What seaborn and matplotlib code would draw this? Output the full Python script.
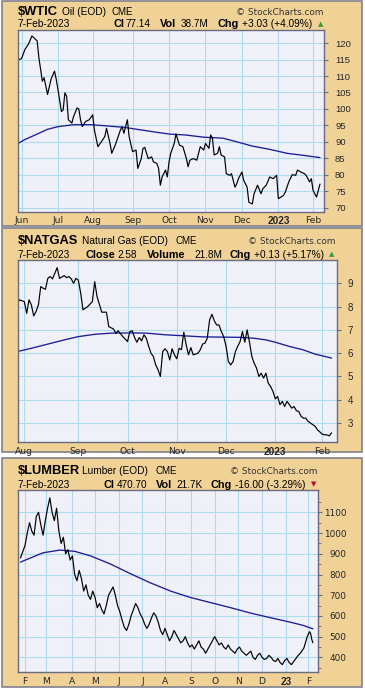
import numpy as np
import pandas as pd
import matplotlib
matplotlib.use("Agg")
import matplotlib.pyplot as plt
from matplotlib.patches import Rectangle
import seaborn as sns

sns.set_style("white")
plt.rcParams["font.family"] = ["Liberation Sans", "DejaVu Sans"]

# exchange holidays, no session on these days
holidays = ["2022-01-17", "2022-02-21", "2022-04-15", "2022-05-30", "2022-06-20",
            "2022-07-04", "2022-09-05", "2022-11-24", "2022-12-26", "2023-01-02",
            "2023-01-16"]

# $WTIC : trading day number counted from 27-May-2022
wtic_day = [0, 2, 4, 6, 8, 9, 11, 12, 14, 15, 17, 19, 21, 22, 23, 25, 26, 27, 28, 29,
            31, 32, 34, 35, 36, 37, 39, 41, 43, 44, 46, 48, 50, 51, 53, 54, 56, 57, 59, 60,
            61, 63, 64, 66, 68, 69, 71, 72, 73, 75, 77, 78, 80, 81, 82, 83, 85, 86, 87, 88,
            90, 91, 93, 95, 97, 98, 99, 101, 103, 105, 107, 108, 110, 111, 112, 113, 115, 116, 117, 119,
            120, 122, 123, 125, 126, 127, 129, 130, 132, 133, 135, 136, 138, 140, 141, 143, 145, 147, 149, 150,
            153, 154, 156, 158, 160, 161, 163, 165, 166, 168, 169, 170, 172, 174]
wtic_close = [114.9, 115.3, 118.1, 119.7, 122.2, 121.7, 120.7, 115.6, 108.4, 109.5, 104.4, 109.0, 111.5, 109.0, 105.9, 99.2, 99.7, 104.9, 103.8, 96.7,
              95.7, 97.7, 100.3, 100.0, 96.7, 94.6, 96.2, 96.7, 98.2, 93.6, 88.5, 90.0, 91.6, 94.1, 89.5, 86.5, 89.0, 90.5, 93.6, 94.6,
              92.6, 96.7, 91.6, 87.0, 87.5, 81.9, 84.9, 88.0, 88.3, 84.9, 85.4, 83.9, 83.4, 81.9, 76.8, 79.3, 81.4, 79.3, 83.9, 86.5,
              89.5, 92.4, 89.0, 88.5, 84.9, 82.4, 84.4, 84.9, 84.4, 88.5, 87.5, 89.5, 88.0, 92.1, 91.1, 86.0, 86.5, 88.5, 86.0, 85.4,
              80.3, 79.8, 80.3, 76.2, 77.2, 78.8, 80.8, 78.3, 76.2, 71.6, 71.1, 74.2, 76.8, 74.2, 75.7, 76.8, 79.3, 78.8, 79.8, 72.7,
              73.7, 74.7, 77.8, 80.0, 79.8, 81.4, 80.8, 80.3, 79.8, 77.8, 78.8, 75.2, 73.2, 77.14]
wtic_ma_day = [0, 4, 10, 17, 23, 32, 42, 52, 61, 71, 81, 88, 96, 107, 118, 126, 135, 145, 155, 164, 174]
wtic_ma = [89.5, 90.7, 92.1, 93.8, 94.6, 95.2, 95.2, 94.8, 94.4, 93.6, 92.8, 92.3, 92.1, 91.4, 91.1, 90.0, 88.7, 87.7, 86.5, 85.9, 85.2]

# $NATGAS : trading day number counted from 27-Jul-2022
natgas_day = [0, 1, 3, 4, 5, 6, 7, 8, 9, 10, 11, 12, 13, 14, 15, 16, 17, 18, 20, 21,
              22, 23, 24, 25, 26, 27, 28, 30, 32, 33, 34, 36, 38, 39, 41, 42, 43, 45, 47, 48,
              49, 50, 51, 52, 53, 54, 55, 56, 57, 58, 59, 60, 61, 62, 63, 64, 65, 66, 67, 68,
              69, 70, 71, 72, 73, 74, 75, 76, 77, 78, 79, 80, 81, 82, 83, 84, 85, 86, 87, 88,
              89, 90, 91, 92, 93, 94, 95, 96, 97, 98, 99, 100, 101, 102, 103, 104, 105, 106, 107, 108,
              109, 110, 111, 112, 113, 114, 115, 116, 117, 118, 119, 120, 121, 122, 123, 124, 125, 126, 127, 128,
              129, 130, 131, 132, 133, 134]
natgas_close = [8.14, 8.29, 8.21, 7.71, 8.29, 8.07, 7.60, 7.79, 8.07, 8.86, 8.79, 8.74, 9.21, 9.29, 9.19, 9.43, 9.67, 9.21, 9.33, 9.24,
                9.29, 9.19, 9.00, 9.21, 9.14, 8.60, 7.86, 8.00, 8.21, 9.07, 8.43, 7.76, 7.76, 7.14, 7.04, 6.86, 6.96, 6.71, 6.50, 6.93,
                6.96, 6.67, 6.47, 6.67, 6.53, 6.79, 6.64, 6.30, 6.00, 5.86, 5.50, 5.29, 5.00, 6.07, 6.19, 6.07, 5.71, 6.19, 5.93, 5.76,
                6.21, 6.15, 6.90, 6.36, 5.93, 6.24, 5.93, 5.96, 6.00, 6.14, 6.39, 6.43, 6.64, 7.43, 7.67, 7.39, 7.21, 7.21, 6.93, 6.71,
                6.30, 5.64, 5.50, 5.64, 6.07, 6.30, 6.50, 6.93, 6.47, 7.00, 6.47, 5.86, 5.57, 5.36, 5.00, 5.14, 4.93, 5.14, 4.71, 4.57,
                4.36, 4.04, 4.14, 3.79, 3.93, 3.71, 3.93, 3.79, 3.64, 3.71, 3.53, 3.50, 3.29, 3.21, 3.21, 3.07, 3.00, 2.93, 2.86, 2.71,
                2.62, 2.52, 2.50, 2.49, 2.45, 2.58]
natgas_ma_day = [0, 6, 13, 20, 26, 33, 40, 49, 55, 63, 72, 79, 87, 95, 101, 106, 110, 116, 122, 127, 134]
natgas_ma = [6.07, 6.21, 6.39, 6.57, 6.71, 6.81, 6.86, 6.87, 6.86, 6.79, 6.74, 6.70, 6.69, 6.68, 6.64, 6.57, 6.47, 6.29, 6.14, 5.96, 5.79]

# $LUMBER : trading day number counted from 26-Jan-2022
lumber_day = [0, 2, 4, 6, 8, 10, 12, 14, 16, 18, 20, 22, 24, 26, 28, 30, 32, 34, 36, 38,
              40, 42, 44, 46, 48, 50, 52, 54, 56, 58, 60, 62, 64, 66, 68, 70, 72, 74, 76, 78,
              80, 82, 84, 86, 88, 90, 92, 94, 96, 98, 100, 102, 104, 106, 108, 110, 112, 114, 116, 118,
              120, 122, 124, 126, 128, 130, 132, 134, 136, 138, 140, 142, 144, 146, 148, 150, 152, 154, 156, 158,
              160, 162, 164, 166, 168, 170, 172, 174, 176, 178, 180, 182, 184, 186, 188, 190, 192, 194, 196, 198,
              200, 202, 204, 206, 208, 210, 212, 214, 216, 218, 220, 222, 224, 226, 228, 230, 232, 234, 236, 238,
              240, 242, 244, 246, 248, 251, 254, 256, 257, 258, 259]
lumber_close = [880, 910, 940, 1000, 1050, 1010, 990, 1080, 1100, 1040, 990, 1060, 1120, 1170, 1100, 1060, 1120, 1010, 950, 980,
                900, 920, 870, 890, 800, 770, 820, 780, 720, 750, 700, 680, 720, 690, 640, 660, 630, 610, 650, 700,
                720, 740, 700, 650, 620, 580, 545, 530, 560, 600, 630, 660, 640, 610, 590, 560, 540, 560, 590, 615,
                600, 570, 530, 510, 540, 510, 480, 500, 530, 510, 490, 470, 480, 500, 470, 450, 460, 440, 460, 480,
                450, 440, 420, 440, 460, 480, 500, 480, 460, 470, 450, 440, 460, 440, 430, 420, 440, 450, 430, 420,
                410, 420, 430, 400, 390, 410, 420, 400, 390, 395, 410, 400, 385, 380, 395, 375, 365, 385, 395, 375,
                365, 380, 395, 410, 421, 445, 500, 524, 515, 487, 470.7]
lumber_ma_day = [0, 20, 35, 48, 62, 80, 97, 115, 133, 150, 168, 186, 203, 221, 239, 250, 259]
lumber_ma = [860, 905, 918, 912, 890, 850, 805, 760, 720, 690, 665, 640, 615, 592, 570, 555, 538]

W, H = 365, 691
TAN = "#F0D296"
BOX = "#80808E"
FRAME = "#6A6A82"
PLOT_BG = "#EFF0F8"
GRID = "#ADDDEC"
MA_COLOR = "#1C1C9A"

fig = plt.figure(figsize=(W / 100, H / 100), dpi=100)
fig.patch.set_facecolor("white")


def fx(x):
    return x / W


def fy(y):
    return 1 - y / H


def put(x, y, s, size, bold=False, family="Liberation Sans", ha="left", color="black"):
    fig.text(fx(x), fy(y), s, fontsize=size, fontweight="bold" if bold else "normal",
             family=family, ha=ha, va="baseline", color=color, zorder=5)


def chart(box, plot, start, end, day, close, ma_day, ma, xlim, ylim, yticks,
          short, ysize, yfamily, ypad, yright=False, minor=None):
    y0, y1 = box
    fig.patches.append(Rectangle((fx(2), fy(y1)), fx(362) - fx(2), fy(y0) - fy(y1),
                                 transform=fig.transFigure, facecolor=TAN,
                                 edgecolor=BOX, lw=1.2, zorder=-10))
    px0, px1, py0, py1 = plot
    ax = fig.add_axes([fx(px0), fy(py1), (px1 - px0) / W, (py1 - py0) / H])
    ax.set_zorder(2)
    ax.set_facecolor(PLOT_BG)

    sns.lineplot(x=ma_day, y=ma, color=MA_COLOR, lw=0.95, ax=ax)
    sns.lineplot(x=day, y=close, color="black", lw=0.85, ax=ax)

    cal = pd.bdate_range(start, end, freq="C", holidays=holidays)
    starts = [i for i in range(1, len(cal)) if cal[i].month != cal[i - 1].month]
    labels = []
    for i in starts:
        d = cal[i]
        if d.month == 1:
            labels.append(d.strftime("%y") if short else d.strftime("%Y"))
        else:
            labels.append(d.strftime("%b")[0] if short else d.strftime("%b"))
    ax.set_xticks(starts)
    ax.set_xticklabels(labels)
    for t, i in zip(ax.get_xticklabels(), starts):
        if cal[i].month == 1:
            t.set_fontweight("bold")
            t.set_family("Liberation Sans")
            t.set_fontsize(7.2)
        else:
            t.set_family("DejaVu Sans")
            t.set_fontsize(6.6)

    ax.set_xlim(*xlim)
    ax.set_ylim(*ylim)
    ax.set_yticks(yticks)
    ax.set_yticklabels([str(v) for v in yticks])
    if minor is not None:
        ax.set_yticks(minor, minor=True)
    ax.yaxis.tick_right()
    ax.grid(True, which="major", color=GRID, lw=0.8)
    ax.set_axisbelow(True)
    ax.set_xlabel("")
    ax.set_ylabel("")
    for sp in ax.spines.values():
        sp.set_color(FRAME)
        sp.set_linewidth(1.0)
    ax.tick_params(axis="x", direction="out", length=2, pad=1.5, color=FRAME)
    ax.tick_params(axis="y", which="major", direction="out", length=3, pad=ypad,
                   color=FRAME, labelsize=ysize)
    ax.tick_params(axis="y", which="minor", direction="out", length=2, color=FRAME)
    for t in ax.get_yticklabels():
        t.set_family(yfamily)
        if yright:
            t.set_ha("right")
    return ax


# ---- $WTIC
chart((1, 226), (17.7, 324, 30, 211.5), "2022-05-27", "2023-02-07",
      wtic_day, wtic_close, wtic_ma_day, wtic_ma,
      (-0.2, 176.3), (68.8, 124.0), list(range(70, 121, 5)),
      False, 6.8, "Liberation Sans", 5)
put(18, 15, "$WTIC", 9.3, bold=True)
put(62, 15, "Oil (EOD)", 7.3)
put(111, 15, "CME", 7.0)
put(323, 15, "© StockCharts.com", 6.4, family="DejaVu Sans", ha="right", color="#333333")
put(18, 27, "7-Feb-2023", 7.3)
put(113, 27, "Cl", 7.8, bold=True)
put(125.5, 27, "77.14", 7.2)
put(160, 27, "Vol", 7.8, bold=True)
put(180.5, 27, "38.7M", 7.2)
put(217, 27, "Chg", 7.8, bold=True)
put(242.5, 27, "+3.03 (+4.09%)", 7.3)
put(320.5, 26, "▲", 5.0, family="DejaVu Sans", ha="center", color="#2E9B3E")

# ---- $NATGAS
chart((228, 452), (18, 336.5, 260, 441.7), "2022-07-27", "2023-02-07",
      natgas_day, natgas_close, natgas_ma_day, natgas_ma,
      (0.3, 136.1), (2.2, 10.0), list(range(3, 10)),
      False, 7.0, "Liberation Sans", 5)
put(18, 244, "$NATGAS", 9.3, bold=True)
put(82, 244, "Natural Gas (EOD)", 7.3)
put(176, 244, "CME", 7.0)
put(336, 244, "© StockCharts.com", 6.4, family="DejaVu Sans", ha="right", color="#333333")
put(18, 257.5, "7-Feb-2023", 7.3)
put(85, 257.5, "Close", 7.8, bold=True)
put(117.5, 257.5, "2.58", 7.2)
put(147, 257.5, "Volume", 7.8, bold=True)
put(194.5, 257.5, "21.8M", 7.2)
put(229, 257.5, "Chg", 7.8, bold=True)
put(253.5, 257.5, "+0.13 (+5.17%)", 7.3)
put(332, 256.5, "▲", 5.0, family="DejaVu Sans", ha="center", color="#2E9B3E")

# ---- $LUMBER
chart((458, 687), (18, 318.3, 490, 672.3), "2022-01-26", "2023-02-07",
      lumber_day, lumber_close, lumber_ma_day, lumber_ma,
      (-2.2, 263.8), (328, 1208), list(range(400, 1101, 100)),
      True, 6.4, "DejaVu Sans", 17, yright=True, minor=list(range(350, 1201, 100)))
put(18, 474, "$LUMBER", 9.3, bold=True)
put(82, 474, "Lumber (EOD)", 7.3)
put(156, 474, "CME", 7.0)
put(318, 474, "© StockCharts.com", 6.4, family="DejaVu Sans", ha="right", color="#333333")
put(18, 487.5, "7-Feb-2023", 7.3)
put(103, 487.5, "Cl", 7.8, bold=True)
put(116.5, 487.5, "470.70", 7.2)
put(156, 487.5, "Vol", 7.8, bold=True)
put(176.5, 487.5, "21.7K", 7.2)
put(211, 487.5, "Chg", 7.8, bold=True)
put(235.5, 487.5, "-16.00 (-3.29%)", 7.3)
put(313.5, 486.5, "▼", 5.0, family="DejaVu Sans", ha="center", color="#B0102E")

fig.savefig("out.png", dpi=100)
